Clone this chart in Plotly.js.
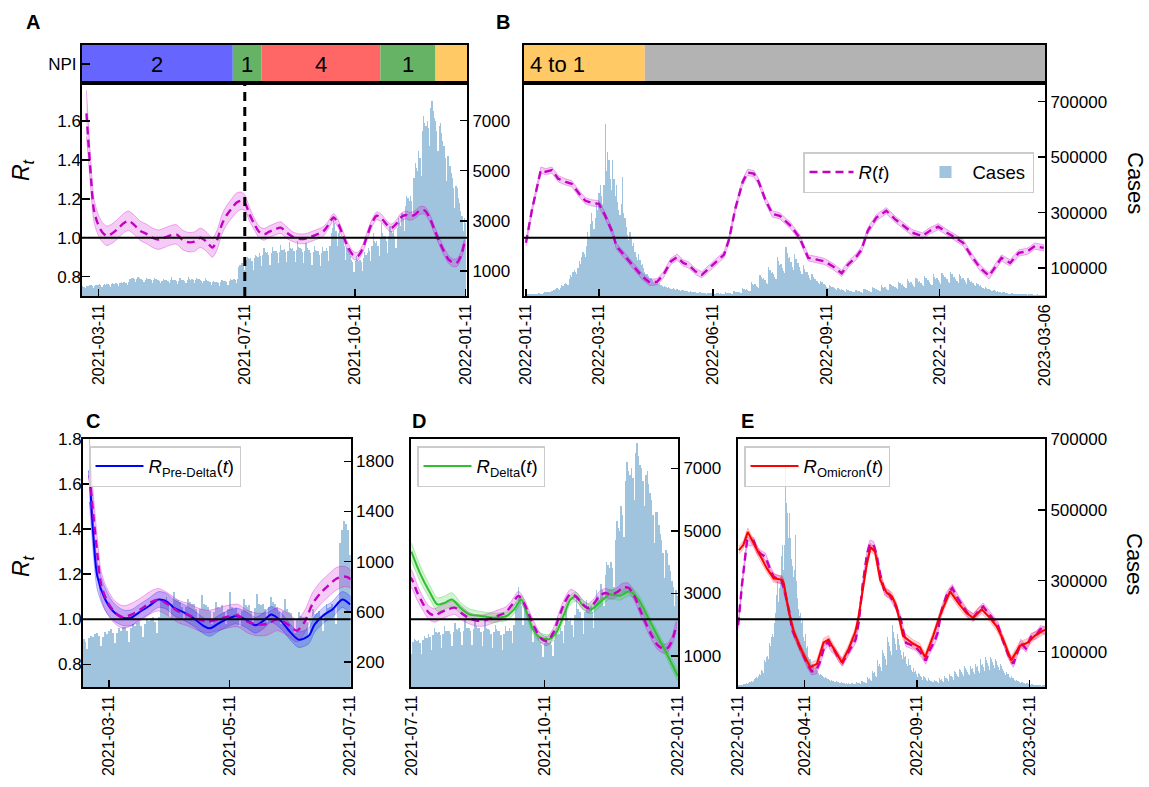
<!DOCTYPE html>
<html><head><meta charset="utf-8">
<script src="https://cdn.plot.ly/plotly-3.0.1.min.js"></script>
<style>html,body{margin:0;padding:0;background:#fff}#chart{width:1149px;height:787px}</style>
</head><body><div id="chart"></div>
<script>
// ---------------- DATA ----------------
const casesStart2021 = '2021-02-26';
const cases2021 = [
380,360,300,390,410,400,420, 430,410,330,400,440,420,450, 460,430,350,430,470,450,480,
480,450,360,470,500,490,510, 520,490,400,500,540,530,550, 560,520,430,560,690,680,700,
720,680,560,660,760,700,690, 680,640,540,640,700,680,660, 660,620,520,620,730,660,650,
640,610,500,600,680,640,630, 650,600,500,620,760,640,620, 630,590,490,610,700,650,640,
650,610,500,630,740,660,650, 660,620,520,640,720,680,660, 640,600,500,610,700,620,600,
590,540,430,540,600,570,560, 560,520,400,540,620,580,590, 610,560,450,580,660,630,640,
660,620,500,680,1150,1250,1320, 1300,1250,1050,1450,1550,1500,1480, 1520,1400,1050,1500,1620,1580,1560,
1700,1600,1200,1650,1900,1750,1720, 1750,1650,1250,1700,1950,1800,1780, 1800,1700,1300,1750,2050,1850,1830,
1880,1750,1350,1800,2150,1900,1880, 1900,1780,1350,1850,2200,1950,1900, 1880,1750,1300,1800,2100,1900,1850,
1820,1700,1250,1750,2000,1850,1800, 1780,1650,1200,1700,1950,1800,1780, 1900,1800,1400,2000,2500,2700,3200,
2900,2600,2000,2500,2600,2400,2300, 2200,2000,1450,1900,1900,1700,1600, 1450,1350,950,1400,1600,1450,1400,
1450,1350,1000,1500,1750,1650,1700, 1900,1800,1400,2000,2500,2200,2100, 2200,2000,1600,2300,2900,2500,2400,
2400,2200,1700,2400,2800,2600,2500, 2600,2400,1900,2700,3100,2900,2800, 3300,3100,2600,3600,4000,3900,3800,
4000,3800,3200,4700,5300,5100,5000, 5800,5500,4800,6600,7200,6900,6800, 7000,6700,6000,7500,7800,7400,7100,
7000,6600,5800,6800,6900,6500,6200, 6000,5500,4600,5600,5600,5200,4900, 4700,4300,3500,4400,4300,3900,3700,
3400,3200,2600,3100,2900
];

const casesStart2022 = '2022-01-11';
const cases2022 = [
5000,6000,5500,6500,7000,6000,5500, 8000,9000,8500,9500,10000,9000,8000, 12000,14000,13000,15000,16000,14000,13000,
18000,22000,20000,25000,28000,25000,22000, 30000,38000,35000,42000,48000,44000,40000, 60000,75000,70000,85000,95000,88000,80000,
100000,125000,115000,140000,160000,150000,140000, 180000,230000,210000,260000,300000,270000,240000, 280000,340000,310000,370000,400000,360000,330000,
400000,620000,450000,520000,490000,420000,380000, 490000,420000,360000,400000,340000,310000,290000, 330000,430000,300000,280000,250000,220000,200000,
230000,210000,180000,190000,160000,140000,130000, 150000,130000,110000,115000,100000,85000,78000, 80000,72000,64000,66000,58000,52000,48000,
55000,50000,44000,46000,40000,36000,33000, 36000,34000,30000,32000,29000,26000,24000, 28000,26000,23000,25000,22000,20000,18000,
22000,20000,18000,19000,17000,15000,14000, 18000,16000,14000,15000,13000,12000,11000, 14000,13000,11000,12000,10500,9500,9000,
12000,11000,9500,10000,9000,8000,7500, 11000,10000,9000,9500,8500,7500,7000, 13000,12000,10500,11000,10000,9000,8500,
18000,16000,14000,15000,13000,12000,11000, 30000,27000,23000,25000,22000,19000,17000, 50000,45000,39000,42000,37000,32000,29000,
75000,68000,60000,64000,56000,48000,44000, 105000,95000,84000,88000,78000,68000,62000, 140000,126000,112000,116000,102000,90000,82000,
175000,155000,138000,140000,122000,105000,95000, 150000,135000,118000,120000,104000,90000,80000, 110000,98000,86000,88000,76000,66000,58000,
78000,70000,61000,63000,55000,47000,42000, 55000,49000,43000,44000,38000,33000,29000, 40000,36000,31000,32000,28000,24000,21000,
30000,27000,23000,24000,21000,18000,16000, 24000,21000,18000,19000,17000,14000,13000, 22000,20000,17000,18000,16000,14000,12000,
26000,24000,21000,22000,19000,16000,14000, 32000,29000,25000,26000,23000,20000,18000, 38000,34000,30000,31000,27000,23000,21000,
45000,41000,36000,37000,32000,28000,25000, 52000,47000,41000,42000,37000,32000,29000, 60000,54000,47000,49000,43000,37000,33000,
66000,60000,52000,54000,47000,41000,37000, 72000,65000,57000,59000,51000,45000,40000, 78000,70000,62000,64000,56000,49000,44000,
84000,76000,67000,69000,60000,52000,47000, 86000,78000,68000,70000,61000,53000,48000, 80000,72000,63000,65000,57000,49000,44000,
66000,59000,51000,53000,46000,40000,35000, 48000,43000,37000,38000,33000,28000,25000, 32000,28000,24000,25000,22000,19000,17000,
21000,19000,16000,17000,15000,13000,11000, 15000,13000,11500,12000,10500,9000,8000, 11000,10000,8500,9000,8000,7000,6000,
9000,8000,7000,7500,6500,5500,5000, 7500,6500,5500,6000,5200,4500,4000, 6000,5200,4500,4800,4200,3600,3200
];

const rtDates2021 = ['2021-03-01','2021-03-03','2021-03-05','2021-03-07','2021-03-10','2021-03-14','2021-03-18','2021-03-22','2021-03-27',
'2021-04-01','2021-04-05','2021-04-10','2021-04-15','2021-04-20','2021-04-25','2021-04-30',
'2021-05-05','2021-05-10','2021-05-15','2021-05-20','2021-05-25','2021-05-30',
'2021-06-04','2021-06-09','2021-06-14','2021-06-18','2021-06-22','2021-06-26','2021-06-30',
'2021-07-04','2021-07-08','2021-07-11','2021-07-15','2021-07-19','2021-07-23','2021-07-27','2021-07-31',
'2021-08-05','2021-08-10','2021-08-15','2021-08-20','2021-08-25','2021-08-30',
'2021-09-04','2021-09-09','2021-09-14','2021-09-18','2021-09-23','2021-09-27',
'2021-10-01','2021-10-05','2021-10-09','2021-10-13','2021-10-17','2021-10-21','2021-10-25','2021-10-29',
'2021-11-02','2021-11-06','2021-11-10','2021-11-14','2021-11-18','2021-11-22','2021-11-26','2021-11-30',
'2021-12-04','2021-12-08','2021-12-12','2021-12-16','2021-12-20','2021-12-24','2021-12-28',
'2022-01-01','2022-01-04','2022-01-07','2022-01-10'];
const rt2021 = [1.64,1.46,1.29,1.15,1.08,1.03,1.01,1.02,1.045,
1.075,1.087,1.065,1.035,1.02,1.0,0.99,
1.0,1.012,1.017,0.99,0.977,0.98,
1.0,0.98,0.95,0.99,1.07,1.117,1.15,
1.18,1.19,1.18,1.12,1.07,1.03,1.017,1.03,
1.043,1.052,1.026,1.005,0.995,0.995,
1.005,1.017,1.03,1.06,1.104,1.07,
1.01,0.953,0.913,0.904,0.94,1.01,1.075,1.113,
1.10,1.07,1.05,1.07,1.104,1.117,1.11,1.12,
1.14,1.14,1.104,1.043,0.983,0.93,0.887,
0.87,0.873,0.904,0.97];
const rt2021Half = [0.12,0.09,0.07,0.06,0.055,0.05,0.05,0.05,0.05,
0.05,0.05,0.05,0.05,0.05,0.05,0.05,
0.05,0.05,0.05,0.05,0.05,0.05,
0.05,0.05,0.05,0.05,0.05,0.05,0.05,
0.05,0.045,0.04,0.035,0.03,0.03,0.03,0.03,
0.03,0.03,0.03,0.025,0.025,0.025,
0.025,0.025,0.025,0.02,0.02,0.02,
0.02,0.02,0.02,0.02,0.02,0.02,0.02,0.02,
0.02,0.02,0.02,0.02,0.02,0.02,0.02,0.02,
0.02,0.02,0.02,0.02,0.02,0.02,0.02,
0.02,0.02,0.02,0.02];

const preDeltaDates = ['2021-03-01','2021-03-03','2021-03-05','2021-03-09','2021-03-13','2021-03-18','2021-03-22','2021-03-26','2021-03-31',
'2021-04-05','2021-04-09','2021-04-13','2021-04-18','2021-04-23','2021-04-28','2021-05-01','2021-05-06','2021-05-14','2021-05-19',
'2021-05-24','2021-05-28','2021-06-01','2021-06-06','2021-06-11','2021-06-15','2021-06-20','2021-06-23','2021-06-28','2021-07-02',
'2021-07-07','2021-07-11'];
const rPreDelta = [1.66,1.365,1.19,1.088,1.036,1.007,1.007,1.03,1.058,
1.088,1.08,1.05,1.03,1.003,0.97,0.96,0.985,1.015,1.0,
0.974,0.993,1.022,0.993,0.94,0.91,0.927,0.978,1.022,1.044,
1.088,1.066];
const rPreDeltaHalf = [0.14,0.08,0.06,0.05,0.04,0.035,0.035,0.035,0.035,
0.035,0.035,0.035,0.035,0.035,0.035,0.035,0.035,0.035,0.035,
0.035,0.035,0.035,0.035,0.035,0.035,0.035,0.035,0.035,0.035,
0.035,0.035];

const deltaDates = ['2021-07-11','2021-07-17','2021-07-24','2021-07-29','2021-08-03','2021-08-08','2021-08-14','2021-08-20','2021-08-28',
'2021-09-06','2021-09-15','2021-09-20','2021-09-25','2021-09-28','2021-10-03','2021-10-08','2021-10-14','2021-10-19','2021-10-25',
'2021-10-29','2021-11-02','2021-11-06','2021-11-12','2021-11-18','2021-11-25','2021-12-02','2021-12-09','2021-12-15','2021-12-21',
'2021-12-28','2022-01-03','2022-01-11'];
const rDelta = [1.30,1.204,1.117,1.066,1.073,1.088,1.05,1.022,1.015,
1.007,1.015,1.044,1.088,1.044,0.956,0.92,0.912,0.94,1.03,
1.088,1.10,1.066,1.044,1.073,1.11,1.105,1.124,1.088,1.015,
0.927,0.854,0.75];
const rDeltaHalf = [0.04,0.035,0.03,0.03,0.03,0.03,0.025,0.025,0.02,
0.02,0.02,0.02,0.02,0.02,0.02,0.02,0.02,0.02,0.02,
0.02,0.02,0.02,0.02,0.02,0.02,0.02,0.02,0.02,0.02,
0.02,0.02,0.02];

const rtDates2022 = ['2022-01-11','2022-01-16','2022-01-23','2022-01-27','2022-02-01','2022-02-06','2022-02-12','2022-02-17','2022-02-23','2022-02-28',
'2022-03-05','2022-03-11','2022-03-16','2022-03-22','2022-03-25','2022-04-01','2022-04-08','2022-04-15','2022-04-21','2022-04-27',
'2022-05-02','2022-05-08','2022-05-13','2022-05-18','2022-05-22','2022-05-28','2022-06-02','2022-06-08','2022-06-14','2022-06-20',
'2022-06-24','2022-06-29','2022-07-05','2022-07-09','2022-07-14','2022-07-18','2022-07-23','2022-07-29','2022-08-04','2022-08-13',
'2022-08-20','2022-08-27','2022-09-03','2022-09-09','2022-09-16','2022-09-23','2022-09-28','2022-10-05','2022-10-09','2022-10-14',
'2022-10-21','2022-10-29','2022-11-05','2022-11-12','2022-11-19','2022-11-27','2022-12-03','2022-12-10','2022-12-17','2022-12-24',
'2022-12-30','2023-01-06','2023-01-13','2023-01-20','2023-01-25','2023-01-30','2023-02-06','2023-02-13','2023-02-20','2023-02-26','2023-03-05'];
const rt2022 = [0.974,1.148,1.348,1.34,1.348,1.304,1.287,1.278,1.226,1.19,
1.18,1.174,1.113,1.026,0.957,0.904,0.852,0.80,0.769,0.774,
0.809,0.878,0.90,0.87,0.861,0.826,0.809,0.843,0.878,0.913,
0.991,1.148,1.287,1.336,1.33,1.287,1.20,1.122,1.113,1.06,
1.0,0.896,0.887,0.878,0.852,0.817,0.861,0.904,0.939,1.035,
1.104,1.139,1.096,1.06,1.026,1.009,1.035,1.057,1.026,1.0,
0.974,0.904,0.843,0.803,0.852,0.896,0.87,0.922,0.93,0.957,0.948];
const rt2022Half = 0.016;

const omicronDates = ['2022-01-12','2022-01-18','2022-01-24','2022-02-01','2022-02-10','2022-02-19','2022-02-28','2022-03-12','2022-03-14',
'2022-03-21','2022-03-28','2022-04-06','2022-04-19','2022-04-28','2022-05-07','2022-05-14','2022-05-21','2022-06-01','2022-06-10',
'2022-06-19','2022-06-23','2022-06-28','2022-07-05','2022-07-10','2022-07-16','2022-07-23','2022-08-01','2022-08-08','2022-08-14',
'2022-08-23','2022-09-06','2022-09-15','2022-09-22','2022-10-03','2022-10-12','2022-10-26','2022-11-06','2022-11-17','2022-11-26',
'2022-12-08','2022-12-19','2022-12-28','2023-01-06','2023-01-17','2023-01-29','2023-02-09','2023-02-18','2023-03-01','2023-03-06'];
const rOmicron = [1.307,1.33,1.387,1.336,1.277,1.226,1.182,1.175,1.16,
1.03,0.942,0.869,0.788,0.803,0.898,0.91,0.869,0.81,0.869,
0.942,1.0,1.10,1.248,1.32,1.30,1.175,1.117,1.102,1.058,
0.927,0.891,0.876,0.832,0.927,1.015,1.124,1.073,1.029,1.007,
1.044,1.007,0.97,0.912,0.818,0.883,0.898,0.927,0.949,0.955];
const rOmicronHalf = 0.018;

const npiAStart = ['2021-02-25','2021-07-01','2021-07-25','2021-11-01','2021-12-17'];
const npiAEnd   = ['2021-07-01','2021-07-25','2021-11-01','2021-12-17','2022-01-13'];
const npiALabel = ['2','1','4','1',''];
const npiBStart = ['2022-01-09','2022-04-17'];
const npiBEnd   = ['2022-04-17','2023-03-07'];
const npiBLabel = ['4 to 1',''];
const deltaStart = '2021-07-11';
const threshold = 1.0;

const ticksA = ['2021-03-11','2021-07-11','2021-10-11','2022-01-11'];
const ticksB = ['2022-01-11','2022-03-11','2022-06-11','2022-09-11','2022-12-11','2023-03-06'];
const ticksC = ['2021-03-11','2021-05-11','2021-07-11'];
const ticksD = ['2021-07-11','2021-10-11','2022-01-11'];
const ticksE = ['2022-01-11','2022-04-11','2022-09-11','2023-02-11'];
const rtTicks = [0.8,1.0,1.2,1.4,1.6,1.8];
const casesTicksA = [1000,3000,5000,7000];
const casesTicksB = [100000,300000,500000,700000];
const casesTicksC = [200,600,1000,1400,1800];

// ---------------- STYLE / LAYOUT ----------------
const W = 1149, H = 787;
const fx = p => p / W, fy = p => 1 - p / H;
const FONT = 'Liberation Sans, Arial, sans-serif';
const BAR = '#a0c4de', MAG = '#c400c4', MAGBAND = 'rgba(204,0,204,0.2)', MAGEDGE = 'rgba(204,0,204,0.3)';
const NPI_COLORS_A = ['#6666ff','#66b366','#ff6666','#66b366','#ffc966'];
const NPI_COLORS_B = ['#ffc966','#b3b3b3'];

function dayList(start, n) {
  const t0 = Date.parse(start + 'T00:00:00Z'); const out = [];
  for (let i = 0; i < n; i++) out.push(new Date(t0 + i * 864e5).toISOString().slice(0, 10));
  return out;
}
const days2021 = dayList(casesStart2021, cases2021.length);
const days2022 = dayList(casesStart2022, cases2022.length);
const toHalfArr = (h, n) => Array.isArray(h) ? h : new Array(n).fill(h);

function band(dates, c, half, xa, ya, fill, edge, shape) {
  const h = toHalfArr(half, c.length);
  const hi = c.map((v, i) => v + h[i]);
  const lo = c.map((v, i) => v - h[i]);
  return {type:'scatter', mode:'lines', x: dates.concat(dates.slice().reverse()),
    y: hi.concat(lo.slice().reverse()), fill:'toself', fillcolor: fill, name:'band',
    line:{width:1, color: edge, shape: shape, smoothing: 0.8}, xaxis: xa, yaxis: ya, showlegend:false, hoverinfo:'skip'};
}
function line(dates, v, xa, ya, color, dash, shape, name, legend, width) {
  return {type:'scatter', mode:'lines', x: dates, y: v, xaxis: xa, yaxis: ya,
    line:{color: color, width: width || 2.4, dash: dash, shape: shape, smoothing: 0.8},
    name: name || 'R(t)', showlegend: !!name, legend: legend || 'legend', hoverinfo:'skip'};
}
function bars(days, vals, xa, ya, showleg) {
  return {type:'bar', x: days, y: vals, xaxis: xa, yaxis: ya, width: 864e5,
    marker:{color: BAR, line:{width:0}}, name:'Cases', showlegend: !!showleg, legend:'legend', legendrank: 2, hoverinfo:'skip'};
}
const DASH = '8px,5px';
const traces = [
  // A
  bars(days2021, cases2021, 'x', 'y'),
  band(rtDates2021, rt2021, rt2021Half, 'x', 'y2', MAGBAND, MAGEDGE, 'spline'),
  line(rtDates2021, rt2021, 'x', 'y2', MAG, DASH, 'spline'),
  // B
  bars(days2022, cases2022, 'x2', 'y3', true),
  band(rtDates2022, rt2022, rt2022Half, 'x2', 'y4', MAGBAND, MAGEDGE, 'linear'),
  Object.assign(line(rtDates2022, rt2022, 'x2', 'y4', MAG, DASH, 'linear', '<i>R</i>(<i>t</i>)', 'legend'), {legendrank: 1}),
  // C
  bars(days2021, cases2021, 'x3', 'y5'),
  band(rtDates2021, rt2021, rt2021Half, 'x3', 'y6', MAGBAND, MAGEDGE, 'spline'),
  band(preDeltaDates, rPreDelta, rPreDeltaHalf, 'x3', 'y6', 'rgba(0,0,255,0.2)', 'rgba(0,0,255,0.25)', 'spline'),
  line(preDeltaDates, rPreDelta, 'x3', 'y6', '#0000ff', null, 'spline', '<i>R</i><sub>Pre-Delta</sub>(<i>t</i>)', 'legend2', 2),
  line(rtDates2021, rt2021, 'x3', 'y6', MAG, DASH, 'spline'),
  // D
  bars(days2021, cases2021, 'x4', 'y7'),
  band(rtDates2021, rt2021, rt2021Half, 'x4', 'y8', MAGBAND, MAGEDGE, 'spline'),
  band(deltaDates, rDelta, rDeltaHalf, 'x4', 'y8', 'rgba(40,200,40,0.22)', 'rgba(40,200,40,0.3)', 'spline'),
  line(deltaDates, rDelta, 'x4', 'y8', '#2fbf2f', null, 'spline', '<i>R</i><sub>Delta</sub>(<i>t</i>)', 'legend3', 2),
  line(rtDates2021, rt2021, 'x4', 'y8', MAG, DASH, 'spline'),
  // E
  bars(days2022, cases2022, 'x5', 'y9'),
  band(rtDates2022, rt2022, rt2022Half, 'x5', 'y10', MAGBAND, MAGEDGE, 'linear'),
  line(rtDates2022, rt2022, 'x5', 'y10', MAG, DASH, 'linear'),
  band(omicronDates, rOmicron, rOmicronHalf, 'x5', 'y10', 'rgba(255,0,0,0.18)', 'rgba(255,0,0,0.2)', 'linear'),
  line(omicronDates, rOmicron, 'x5', 'y10', '#ff0000', null, 'linear', '<i>R</i><sub>Omicron</sub>(<i>t</i>)', 'legend4', 2)
];

const axBase = {showline:true, mirror:true, linecolor:'#000', linewidth:2, ticks:'inside', ticklen:7, tickwidth:1.5,
  tickcolor:'#000', showgrid:false, zeroline:false, tickfont:{family:FONT, size:17, color:'#000'}};
function xax(domain, range, ticks, anchor) {
  return Object.assign({}, axBase, {type:'date', domain: domain, range: range, anchor: anchor,
    tickvals: ticks, ticktext: ticks, tickangle: -90, tickfont:{family:FONT, size:16, color:'#000'}});
}
function casesAx(domain, range, ticks, anchor) {
  return Object.assign({}, axBase, {domain: domain, range: range, side:'right', anchor: anchor, tickvals: ticks, ticktext: ticks.map(String)});
}
function rtAx(overlay, anchor, range, labels) {
  const a = Object.assign({}, axBase, {overlaying: overlay, anchor: anchor, side:'left', range: range, showline:false, ticklen:8});
  if (labels) { a.tickvals = rtTicks; a.ticktext = rtTicks.map(v => v.toFixed(1)); }
  else { a.showticklabels = false; a.ticks = ''; }
  return a;
}
const topDom = [fy(296), fy(83.3)], stripDom = [fy(83.3), fy(45)], botDom = [fy(687), fy(438.7)];
const rangeA = ['2021-02-25 07:00', '2022-01-12 06:00'];
const rangeB = ['2022-01-09 10:00', '2023-03-06 04:00'];
const domA = [fx(82), fx(467)], domB = [fx(524), fx(1045)];
const LEG = {xanchor:'left', yanchor:'top', bgcolor:'rgba(255,255,255,0.8)', bordercolor:'#cccccc', borderwidth:1.5,
  font:{family:FONT, size:18.5}, itemwidth:48};

const layout = {
  width: W, height: H, margin:{l:0, r:0, t:0, b:0}, paper_bgcolor:'#fff', plot_bgcolor:'rgba(0,0,0,0)',
  font:{family:FONT, color:'#000'}, bargap:0, barmode:'overlay',
  xaxis: xax(domA, rangeA, ticksA, 'y'),
  yaxis: casesAx(topDom, [0, 8490], casesTicksA, 'x'),
  yaxis2: Object.assign(rtAx('y', 'x', [0.70, 1.795], true), {tickvals:[0.8,1.0,1.2,1.4,1.6], ticktext:['0.8','1.0','1.2','1.4','1.6']}),
  xaxis2: xax(domB, rangeB, ticksB, 'y3'),
  yaxis3: casesAx(topDom, [0, 766000], casesTicksB, 'x2'),
  yaxis4: rtAx('y3', 'x2', [0.70, 1.795], false),
  xaxis3: xax([fx(82.7), fx(350.7)], ['2021-02-25 14:00', '2021-07-11 06:00'], ticksC, 'y5'),
  yaxis5: casesAx(botDom, [0, 1980], casesTicksC, 'x3'),
  yaxis6: rtAx('y5', 'x3', [0.70, 1.801], true),
  xaxis4: xax([fx(411), fx(678)], ['2021-07-10 18:00', '2022-01-11 06:00'], ticksD, 'y7'),
  yaxis7: casesAx(botDom, [0, 7950], casesTicksA, 'x4'),
  yaxis8: rtAx('y7', 'x4', [0.70, 1.801], false),
  xaxis5: xax([fx(738), fx(1045)], ['2022-01-10 18:00', '2023-03-04 00:00'], ticksE, 'y9'),
  yaxis9: casesAx(botDom, [0, 700500], casesTicksB, 'x5'),
  yaxis10: rtAx('y9', 'x5', [0.70, 1.801], false),
  xaxis6: Object.assign({}, axBase, {type:'date', domain: domA, range: rangeA, anchor:'y11', showticklabels:false, ticks:''}),
  yaxis11: Object.assign({}, axBase, {domain: stripDom, range:[0,1], anchor:'x6', tickvals:[0.5], ticktext:['NPI'], ticklen:8}),
  xaxis7: Object.assign({}, axBase, {type:'date', domain: domB, range: rangeB, anchor:'y12', showticklabels:false, ticks:''}),
  yaxis12: Object.assign({}, axBase, {domain: stripDom, range:[0,1], anchor:'x7', showticklabels:false, ticks:''}),
  legend: Object.assign({}, LEG, {x: fx(803), y: fy(152), orientation:'h', entrywidth:55, itemwidth:44, traceorder:'normal', bgcolor:'rgba(255,255,255,0.85)'}),
  legend2: Object.assign({}, LEG, {x: fx(89), y: fy(446)}),
  legend3: Object.assign({}, LEG, {x: fx(417), y: fy(446)}),
  legend4: Object.assign({}, LEG, {x: fx(744), y: fy(446)}),
  shapes: [], annotations: []
};

// NPI strips
const midDate = (a, b) => new Date((Date.parse(a) + Date.parse(b)) / 2).toISOString();
npiAStart.forEach((s, i) => {
  layout.shapes.push({type:'rect', layer:'below', xref:'x6', yref:'y11 domain', x0:s, x1:npiAEnd[i], y0:0, y1:1,
    fillcolor: NPI_COLORS_A[i], line:{width:0}});
  if (npiALabel[i]) layout.annotations.push({xref:'x6', yref:'y11 domain', x: midDate(s, npiAEnd[i]), y:0.5,
    xanchor:'center', yanchor:'middle', text: npiALabel[i], showarrow:false, font:{family:FONT, size:22, color:'#000'}});
});
npiBStart.forEach((s, i) => {
  layout.shapes.push({type:'rect', layer:'below', xref:'x7', yref:'y12 domain', x0:s, x1:npiBEnd[i], y0:0, y1:1,
    fillcolor: NPI_COLORS_B[i], line:{width:0}});
  if (npiBLabel[i]) layout.annotations.push({xref:'x7 domain', yref:'y12 domain', x: 0, y:0.5, xanchor:'left', yanchor:'middle', xshift:4,
    text: npiBLabel[i], showarrow:false, font:{family:FONT, size:22, color:'#000'}});
});
// threshold lines
[['x','y2'],['x2','y4'],['x3','y6'],['x4','y8'],['x5','y10']].forEach(([xa, ya]) => {
  layout.shapes.push({type:'line', xref: xa + ' domain', x0:0, x1:1, yref: ya, y0: threshold, y1: threshold, line:{color:'#000', width:2}});
});
layout.shapes.push({type:'line', xref:'x', x0: deltaStart, x1: deltaStart, yref:'y2 domain', y0:0, y1:1, line:{color:'#000', width:3, dash:'9px,6px'}});

// texts
const ann = (x, y, text, size, extra) => layout.annotations.push(Object.assign({xref:'paper', yref:'paper', x: fx(x), y: fy(y), text: text,
  xanchor:'center', yanchor:'middle', showarrow:false, font:{family:FONT, size: size, color:'#000'}}, extra || {}));
ann(33, 22, '<b>A</b>', 20);
ann(503, 22, '<b>B</b>', 20);
ann(93, 421, '<b>C</b>', 20);
ann(419, 421, '<b>D</b>', 20);
ann(747, 421, '<b>E</b>', 20);
ann(22, 170, '<i>R<sub>t</sub></i>', 23, {textangle:-90});
ann(22, 566, '<i>R<sub>t</sub></i>', 23, {textangle:-90});
ann(1135, 183, 'Cases', 22, {textangle:90});
ann(1135, 564, 'Cases', 22, {textangle:90});

Plotly.newPlot('chart', traces, layout, {displayModeBar:false, staticPlot:true});
</script></body></html>
